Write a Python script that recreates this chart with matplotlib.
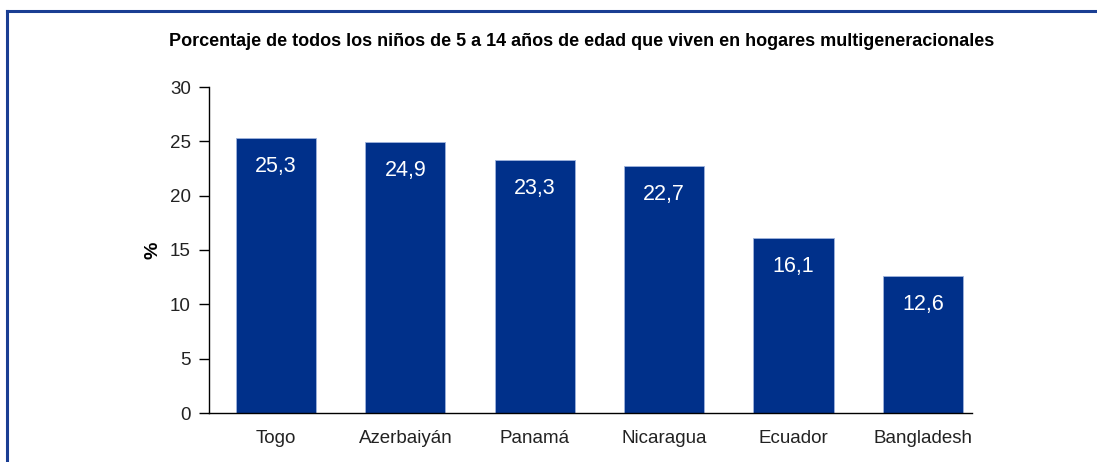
import matplotlib
matplotlib.use('Agg')
import matplotlib.pyplot as plt
from matplotlib.lines import Line2D

paises = ['Togo', 'Azerbaiyán', 'Panamá', 'Nicaragua', 'Ecuador', 'Bangladesh']
valores = [25.3, 24.9, 23.3, 22.7, 16.1, 12.6]
etiquetas = ['25,3', '24,9', '23,3', '22,7', '16,1', '12,6']
titulo = 'Porcentaje de todos los niños de 5 a 14 años de edad que viven en hogares multigeneracionales'

plt.rcParams['font.family'] = ['Liberation Sans', 'DejaVu Sans']

fig = plt.figure(figsize=(10.97, 4.62), dpi=100)
W, H = 1097, 462
# axes: x 209..972, y 413..87 (pixels)
ax = fig.add_axes([209 / W, 1 - 413 / H, (972 - 209) / W, (413 - 87) / H])

x = list(range(len(paises)))
bars = ax.bar(x, valores, width=0.62, color='#00308a', edgecolor='#9fb3dd', linewidth=0.6)
for b, t in zip(bars, etiquetas):
    ax.text(b.get_x() + b.get_width() / 2, b.get_height() - 1.65, t,
            ha='center', va='top', color='white', fontsize=15.5)

ax.set_xlim(-0.518, 5.38)
ax.set_ylim(0, 30)
ax.set_yticks(range(0, 31, 5))
ax.set_xticks(x)
ax.set_xticklabels(paises, fontsize=13.5, color='#222222')
ax.tick_params(axis='y', labelsize=13.5, labelcolor='#222222', length=7, width=1, direction='out', pad=6)
ax.tick_params(axis='x', length=0, pad=12)
for s in ['top', 'right']:
    ax.spines[s].set_visible(False)
ax.spines['left'].set_linewidth(1)
ax.spines['bottom'].set_linewidth(1)
ax.set_ylabel('%', fontsize=14, fontweight='bold', rotation=90, labelpad=6)

fig.text(582 / W, 1 - 41 / H, titulo, ha='center', va='center',
         fontsize=13, fontweight='bold')

# blue frame (top and left)
borde = '#1a3e93'
fig.add_artist(Line2D([7 / W, 1.0], [1 - 11 / H, 1 - 11 / H], color=borde, lw=2.2, transform=fig.transFigure))
fig.add_artist(Line2D([7 / W, 7 / W], [0, 1 - 11 / H], color=borde, lw=2.2, transform=fig.transFigure))

fig.savefig('out.png', dpi=100)
